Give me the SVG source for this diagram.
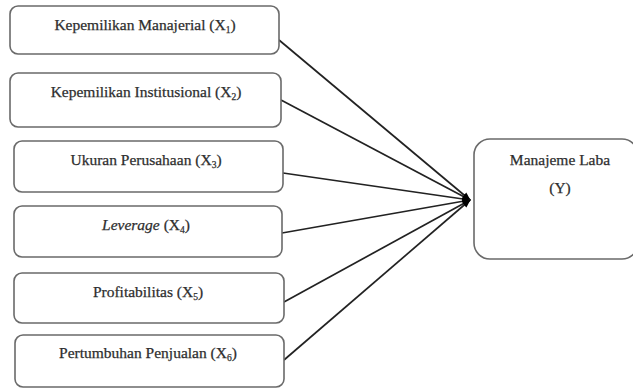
<svg xmlns="http://www.w3.org/2000/svg" width="633" height="388" viewBox="0 0 633 388">
<defs>
<style>
.box{fill:#fff;stroke:#6a6a6a;stroke-width:1.6}
.t{font-family:"Liberation Serif","Times New Roman",serif;font-size:15.5px;fill:#2e2e2e;stroke:#2e2e2e;stroke-width:0.25;text-anchor:middle}
.s{font-size:9.5px}
.c{stroke:#222;stroke-width:1.7;fill:none;marker-end:url(#ah)}
</style>
<marker id="ah" viewBox="0 0 10 10" refX="9" refY="5" markerWidth="5" markerHeight="5" orient="auto" markerUnits="strokeWidth">
<path d="M0,1 L10,5 L0,9 Z" fill="#000"/>
</marker>
</defs>
<rect width="633" height="388" fill="#fff"/>
<g id="connectors">
<line class="c" x1="279" y1="40" x2="470" y2="200"/>
<line class="c" x1="281" y1="100" x2="470" y2="200"/>
<line class="c" x1="283" y1="173" x2="470" y2="200"/>
<line class="c" x1="282" y1="233" x2="470" y2="200"/>
<line class="c" x1="284" y1="302" x2="470" y2="200"/>
<line class="c" x1="284" y1="360" x2="470" y2="200"/>
</g>
<g id="x1">
<rect class="box" x="10" y="6" width="269" height="48" rx="8"/>
<text class="t" x="145" y="30">Kepemilikan Manajerial (X<tspan class="s" dy="3">1</tspan><tspan dy="-3">)</tspan></text>
</g>
<g id="x2">
<rect class="box" x="10" y="73" width="271" height="54" rx="8"/>
<text class="t" x="146" y="97">Kepemilikan Institusional (X<tspan class="s" dy="3">2</tspan><tspan dy="-3">)</tspan></text>
</g>
<g id="x3">
<rect class="box" x="14" y="141" width="269" height="51" rx="8"/>
<text class="t" x="146" y="165">Ukuran Perusahaan (X<tspan class="s" dy="3">3</tspan><tspan dy="-3">)</tspan></text>
</g>
<g id="x4">
<rect class="box" x="14" y="206" width="268" height="51" rx="8"/>
<text class="t" x="146" y="230"><tspan font-style="italic">Leverage</tspan> (X<tspan class="s" dy="3">4</tspan><tspan dy="-3">)</tspan></text>
</g>
<g id="x5">
<rect class="box" x="14" y="273" width="270" height="50" rx="8"/>
<text class="t" x="148" y="297">Profitabilitas (X<tspan class="s" dy="3">5</tspan><tspan dy="-3">)</tspan></text>
</g>
<g id="x6">
<rect class="box" x="15" y="335" width="269" height="52" rx="8"/>
<text class="t" x="148" y="358">Pertumbuhan Penjualan (X<tspan class="s" dy="3">6</tspan><tspan dy="-3">)</tspan></text>
</g>
<g id="y">
<rect class="box" x="474" y="139" width="164" height="120" rx="16"/>
<text class="t" x="560" y="165">Manajeme Laba</text>
<text class="t" x="560" y="193">(Y)</text>
</g>
</svg>
